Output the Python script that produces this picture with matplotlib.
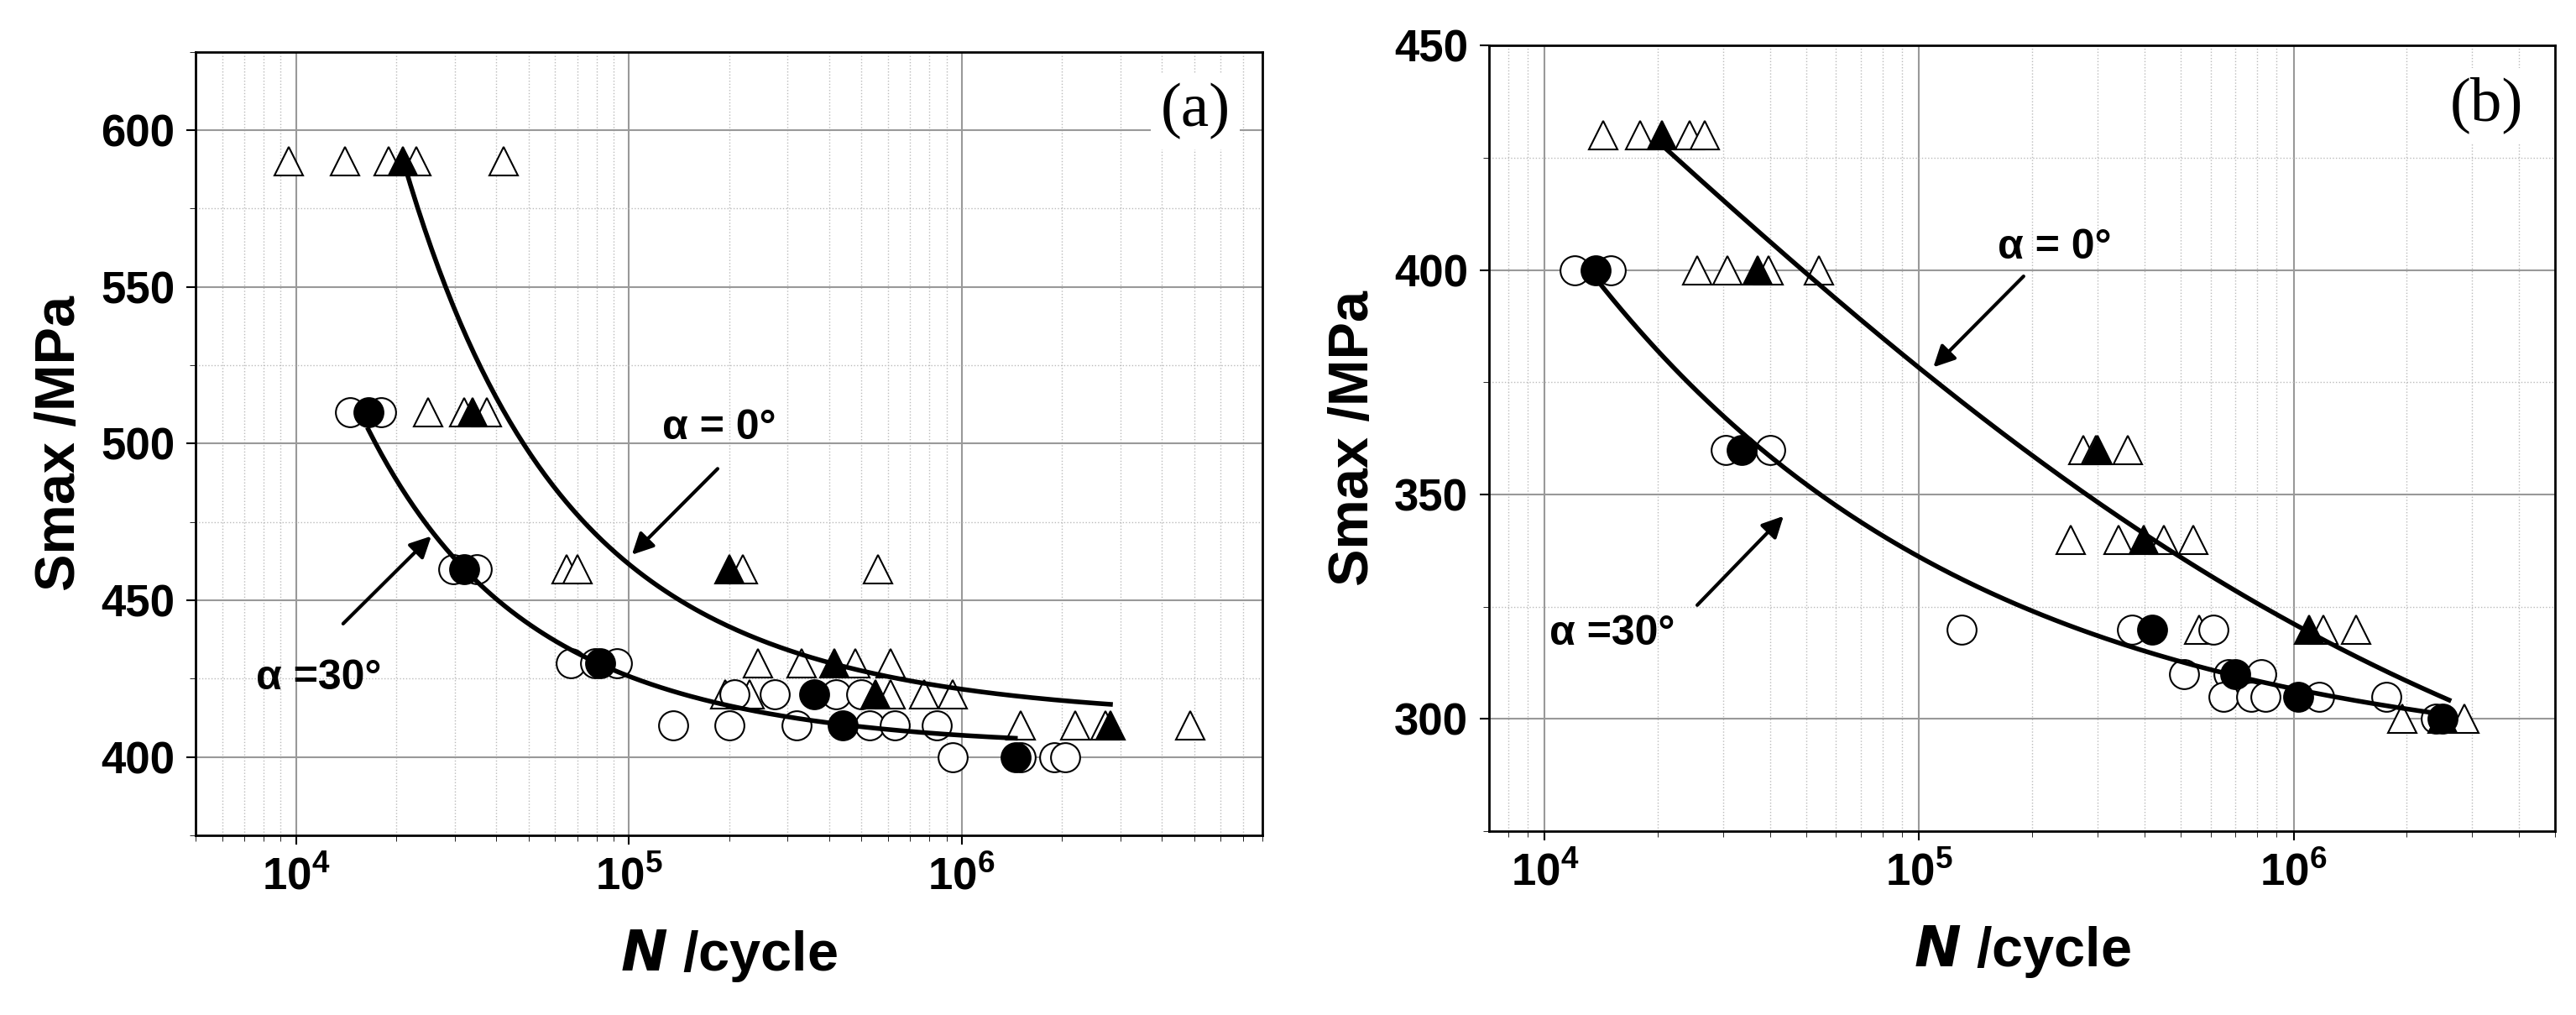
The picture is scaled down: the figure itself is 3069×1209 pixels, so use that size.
import numpy as np
import matplotlib.pyplot as plt

plt.rcParams['font.family'] = ['Liberation Sans', 'DejaVu Sans']

# ---- panel (a) data ----
a_tri_open = {590: [9.5e3, 1.4e4, 1.9e4, 2.3e4, 4.2e4],
              510: [2.5e4, 3.2e4, 3.75e4],
              460: [6.5e4, 7.0e4, 2.2e5, 5.6e5],
              430: [2.45e5, 3.3e5, 4.8e5, 6.1e5],
              420: [1.95e5, 2.3e5, 6.1e5, 7.7e5, 9.4e5],
              410: [1.5e6, 2.2e6, 2.7e6, 4.85e6]}
a_tri_fill = {590: [2.1e4], 510: [3.4e4], 460: [2.0e5], 430: [4.15e5], 420: [5.5e5], 410: [2.8e6]}
a_cir_open = {510: [1.45e4, 1.8e4],
              460: [2.97e4, 3.5e4],
              430: [6.7e4, 7.9e4, 9.2e4],
              420: [2.08e5, 2.75e5, 4.2e5, 5.0e5],
              410: [1.36e5, 2.0e5, 3.2e5, 5.3e5, 6.3e5, 8.4e5],
              400: [9.4e5, 1.5e6, 1.9e6, 2.05e6]}
a_cir_fill = {510: [1.65e4], 460: [3.2e4], 430: [8.2e4], 420: [3.6e5], 410: [4.4e5], 400: [1.45e6]}
a_fit0_n = [2.1e4, 4.0e4, 5.3e4, 1.0e5, 2.2e5, 1.0e6, 2.8e6]
a_fit0_s = [582, 513, 500, 463, 440, 420, 417.5]
a_fit30_n = [1.65e4, 2.5e4, 3.2e4, 8.2e4, 2.2e5, 4.4e5, 1.45e6]
a_fit30_s = [509, 469, 460, 430, 416, 410, 406]

# ---- panel (b) data ----
b_tri_open = {430: [1.43e4, 1.8e4, 2.44e4, 2.67e4],
              400: [2.56e4, 3.07e4, 3.96e4, 5.4e4],
              360: [2.75e5, 2.96e5, 3.6e5],
              340: [2.54e5, 3.4e5, 4.5e5, 5.4e5],
              320: [5.6e5, 1.2e6, 1.47e6],
              300: [1.95e6, 2.85e6]}
b_tri_fill = {430: [2.06e4], 400: [3.7e4], 360: [3.0e5], 340: [3.97e5], 320: [1.1e6], 300: [2.5e6]}
b_cir_open = {400: [1.2e4, 1.5e4],
              360: [3.04e4, 4.0e4],
              320: [1.3e5, 3.7e5, 6.1e5],
              310: [5.1e5, 6.7e5, 8.2e5],
              305: [6.5e5, 7.7e5, 8.4e5, 1.17e6, 1.77e6],
              300: [2.4e6]}
b_cir_fill = {400: [1.37e4], 360: [3.36e4], 320: [4.2e5], 310: [7.0e5], 305: [1.03e6], 300: [2.5e6]}
b_fit0_n = [2.06e4, 1.0e5, 3.97e5, 1.1e6, 2.6e6]
b_fit0_s = [428, 378, 341, 320, 304]
b_fit30_n = [1.37e4, 4.0e4, 1.0e5, 4.2e5, 1.0e6, 2.6e6]
b_fit30_s = [398, 358, 337, 314.5, 306.5, 301]


def scatter(ax, d, marker, fill):
    for s, ns in d.items():
        ax.plot(ns, [s] * len(ns), linestyle='none', marker=marker, ms=25,
                mfc='black' if fill else 'white', mec='black', mew=1.5,
                zorder=4 if fill else 3)


def fit_curve(ax, n, s, floor):
    # quadratic fit of log(S - floor) against log N: smooth, no wiggles
    x = np.log10(n)
    p = np.polyfit(x, np.log(np.array(s) - floor), 2)
    xx = np.linspace(x[0], x[-1], 200)
    ax.plot(10 ** xx, floor + np.exp(np.polyval(p, xx)), color='black', lw=4, zorder=5)


def setup(ax, xlim, ylim, yticks, label):
    ax.set_xscale('log')
    ax.set_xlim(*xlim)
    ax.set_ylim(*ylim)
    ax.set_yticks(yticks)
    ax.grid(True, which='major', color='#999999', lw=1.5)
    ax.grid(True, which='minor', color='#bbbbbb', lw=1, ls=':')
    ax.yaxis.set_minor_locator(plt.MultipleLocator(25))
    ax.tick_params(labelsize=38, width=1.5, length=8, pad=10)
    ax.tick_params(which='minor', length=5)
    for t in ax.get_xticklabels() + ax.get_yticklabels():
        t.set_fontweight('bold')
    for sp in ax.spines.values():
        sp.set_linewidth(2)
    ax.set_xlabel('$\\boldsymbol{N}$ /cycle', fontsize=48, fontweight='bold', labelpad=25)
    ax.set_ylabel('Smax /MPa', fontsize=48, fontweight='bold', labelpad=12)
    ax.text(0.97, 0.96, label, transform=ax.transAxes, ha='right', va='top',
            fontsize=54, family='Liberation Serif',
            bbox=dict(fc='white', ec='none', pad=8), zorder=6)


fig = plt.figure(figsize=(30.69, 12.09), dpi=100)
axa = fig.add_axes([0.076, 0.177, 0.414, 0.772])
axb = fig.add_axes([0.578, 0.181, 0.414, 0.774])

setup(axa, (5.0e3, 8.0e6), (375, 625), [400, 450, 500, 550, 600], '(a)')
scatter(axa, a_tri_open, '^', False)
scatter(axa, a_cir_open, 'o', False)
scatter(axa, a_tri_fill, '^', True)
scatter(axa, a_cir_fill, 'o', True)
fit_curve(axa, a_fit0_n, a_fit0_s, 405)
fit_curve(axa, a_fit30_n, a_fit30_s, 395)
arr = dict(arrowstyle='-|>', color='black', lw=3, mutation_scale=38)
axa.text(1.26e5, 505, 'α = 0°', fontsize=36, fontweight='bold', va='center')
axa.annotate('', xy=(1.01e5, 464), xytext=(1.87e5, 492.5), arrowprops=arr)
axa.text(7.6e3, 425, 'α =30°', fontsize=36, fontweight='bold', va='center')
axa.annotate('', xy=(2.58e4, 471), xytext=(1.37e4, 442), arrowprops=arr)

setup(axb, (7.1e3, 5.0e6), (275, 450), [300, 350, 400, 450], '(b)')
scatter(axb, b_tri_open, '^', False)
scatter(axb, b_cir_open, 'o', False)
scatter(axb, b_tri_fill, '^', True)
scatter(axb, b_cir_fill, 'o', True)
fit_curve(axb, b_fit0_n, b_fit0_s, 260)
fit_curve(axb, b_fit30_n, b_fit30_s, 290)
axb.text(1.62e5, 405, 'α = 0°', fontsize=36, fontweight='bold', va='center')
axb.annotate('', xy=(1.08e5, 378), xytext=(1.92e5, 399), arrowprops=arr)
axb.text(1.03e4, 319, 'α =30°', fontsize=36, fontweight='bold', va='center')
axb.annotate('', xy=(4.39e4, 345.6), xytext=(2.53e4, 325), arrowprops=arr)

fig.savefig('out.png', dpi=100)
